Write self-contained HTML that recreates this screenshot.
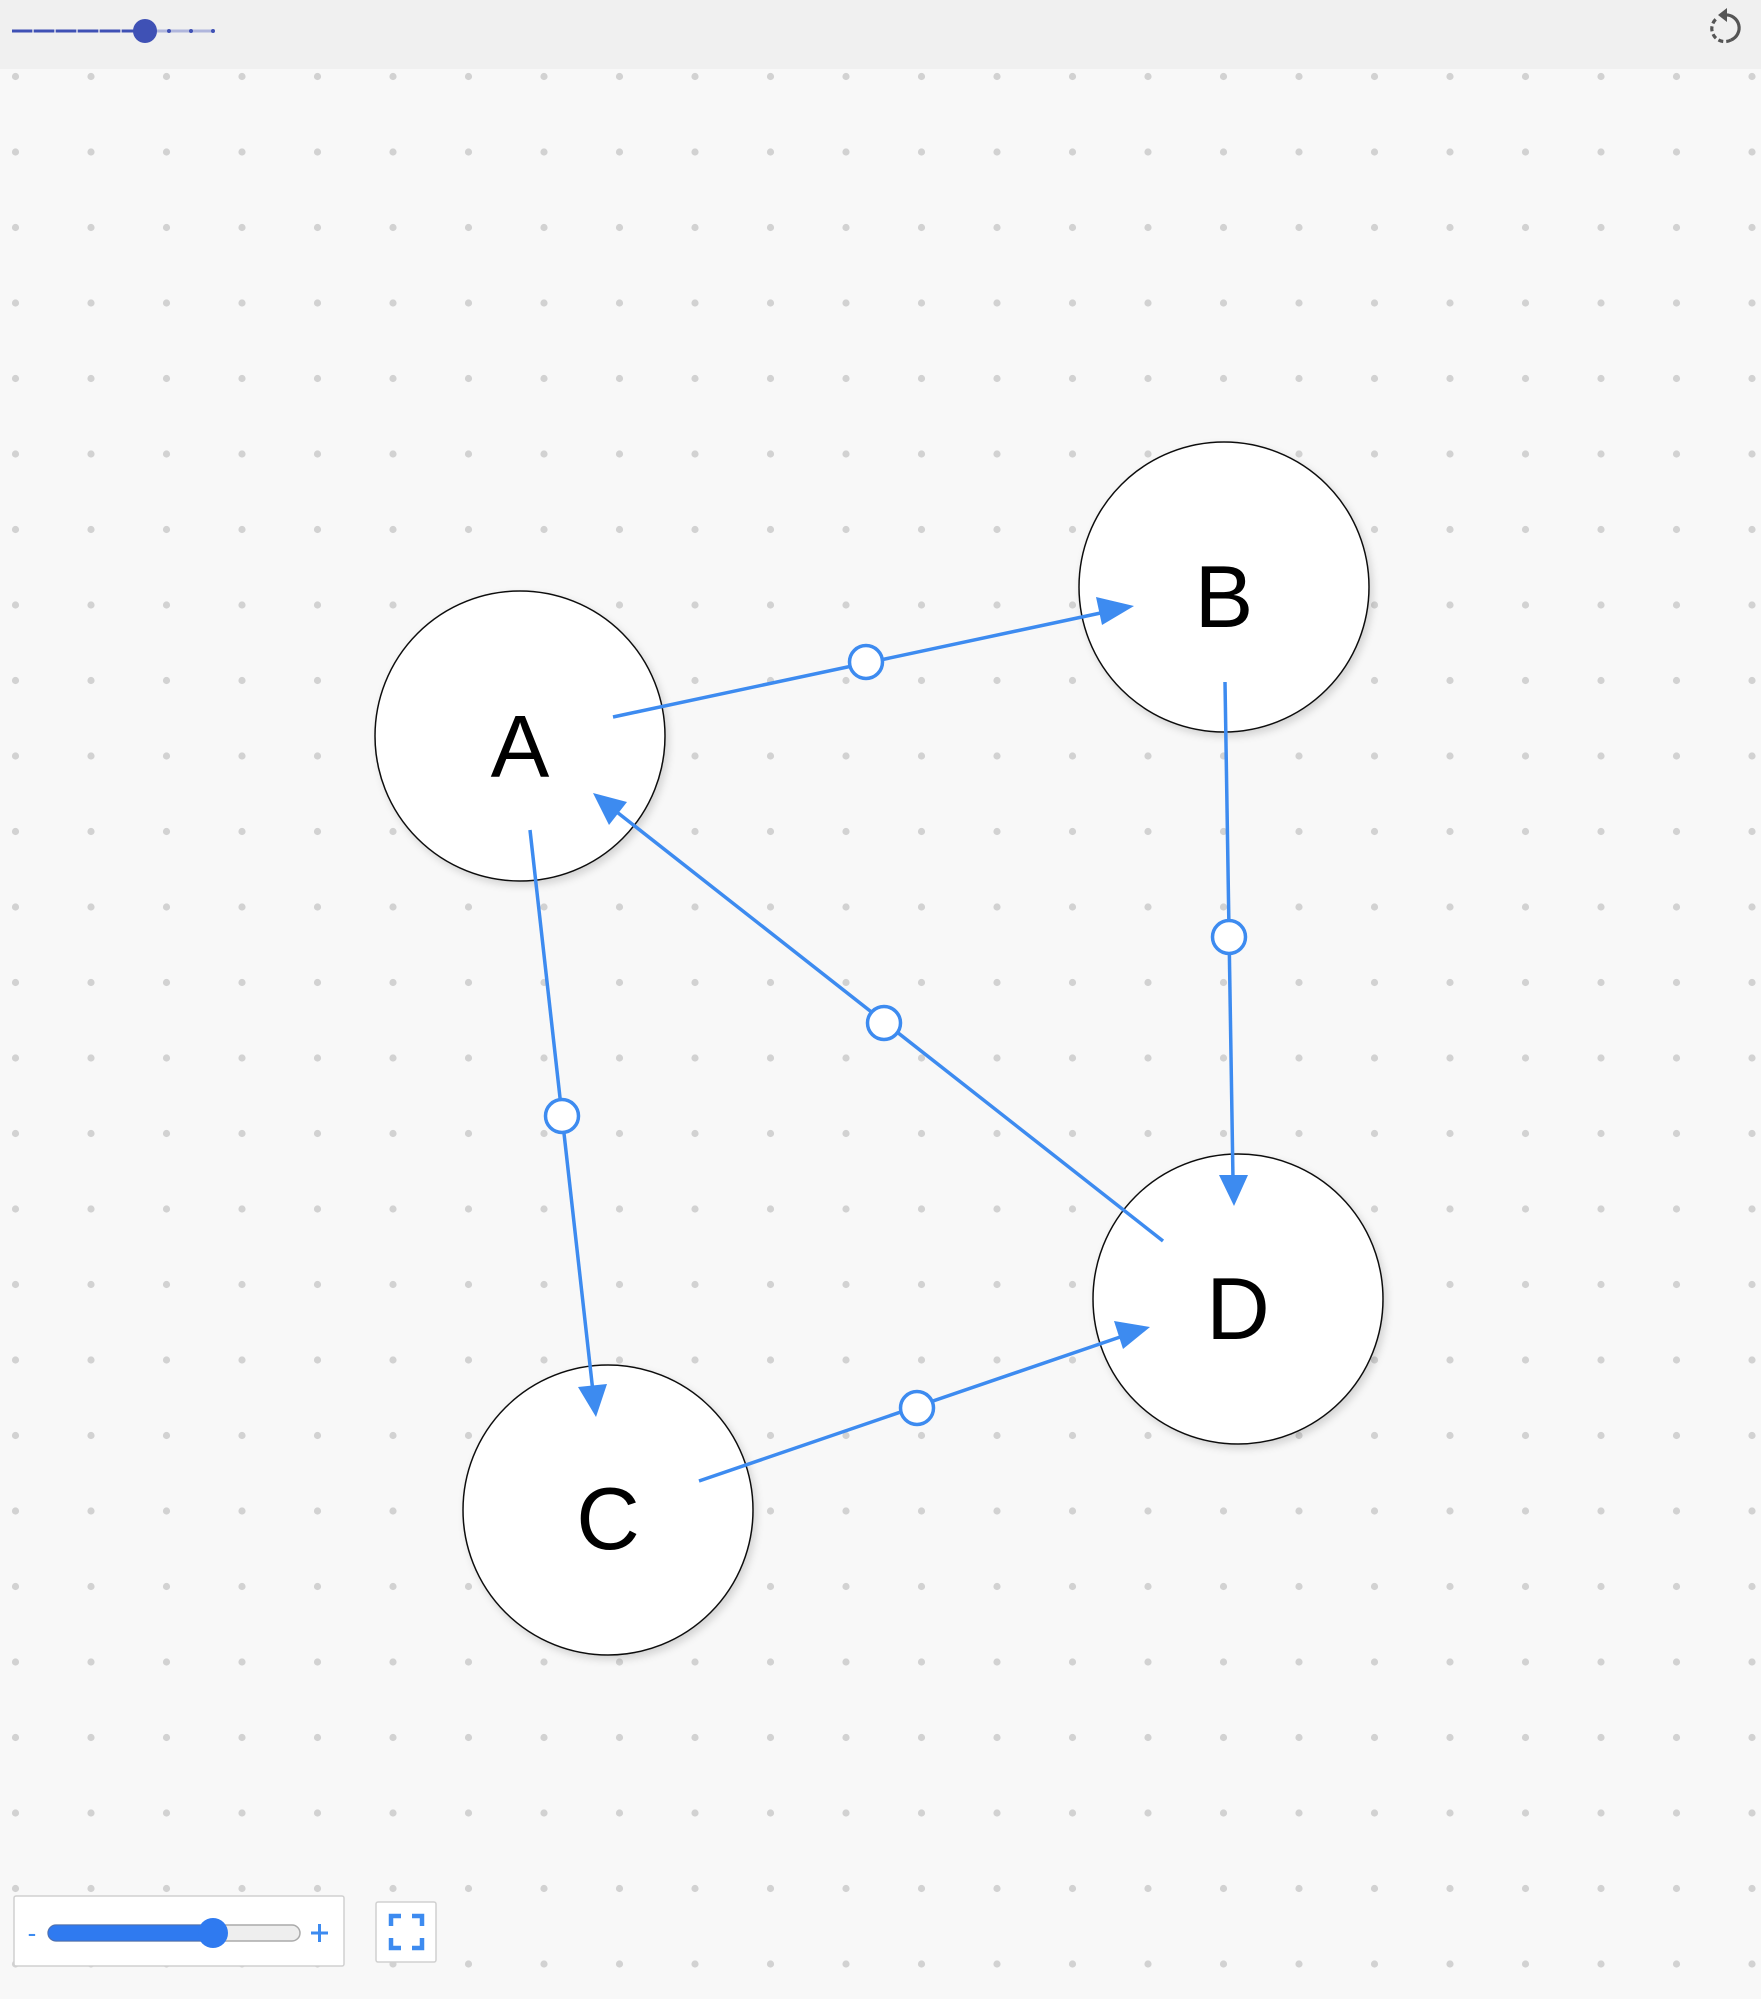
<!DOCTYPE html>
<html><head><meta charset="utf-8"><style>
html,body{margin:0;padding:0;width:1761px;height:1999px;overflow:hidden;background:#f8f8f8;font-family:"Liberation Sans",sans-serif}
</style></head><body>
<svg width="1761" height="1999" viewBox="0 0 1761 1999" xmlns="http://www.w3.org/2000/svg">
<defs>
<pattern id="dots" x="15.5" y="76.5" width="75.5" height="75.5" patternUnits="userSpaceOnUse">
<circle cx="0" cy="0" r="3.6" fill="#d2d2d2"/><circle cx="75.5" cy="0" r="3.6" fill="#d2d2d2"/><circle cx="0" cy="75.5" r="3.6" fill="#d2d2d2"/><circle cx="75.5" cy="75.5" r="3.6" fill="#d2d2d2"/>
</pattern>
<filter id="sh" x="-20%" y="-20%" width="140%" height="140%"><feDropShadow dx="3" dy="4" stdDeviation="4" flood-color="#000" flood-opacity="0.15"/></filter>
</defs>
<rect width="1761" height="1999" fill="#f8f8f8"/>
<rect x="0" y="69" width="1761" height="1930" fill="url(#dots)"/>
<rect x="0" y="0" width="1761" height="69" fill="#f0f0f0"/>
<!-- top slider -->
<line x1="12" y1="31" x2="213" y2="31" stroke="#b0b6dc" stroke-width="3"/>
<line x1="12" y1="31" x2="145" y2="31" stroke="#3f51b5" stroke-width="3" stroke-dasharray="20 2"/>
<circle cx="169" cy="31" r="2" fill="#3f51b5"/><circle cx="191" cy="31" r="2" fill="#3f51b5"/><circle cx="213" cy="31" r="2" fill="#3f51b5"/>
<circle cx="145" cy="31" r="12" fill="#3f51b5"/>
<!-- reset icon -->
<path d="M1725 15 A13 13 0 0 1 1731 40" fill="none" stroke="#555" stroke-width="3.2"/>
<path d="M1731 40 A13 13 0 0 1 1716 19" fill="none" stroke="#555" stroke-width="3.2" stroke-dasharray="5 3"/>
<polygon points="1718,15 1727,8 1727,22" fill="#555"/>
<!-- nodes -->
<g filter="url(#sh)" fill="#fff" stroke="#111" stroke-width="1.5">
<circle cx="520" cy="736" r="145"/>
<circle cx="1224" cy="587" r="145"/>
<circle cx="608" cy="1510" r="145"/>
<circle cx="1238" cy="1299" r="145"/>
</g>
<g font-size="88" text-anchor="middle" fill="#000" font-family="Liberation Sans, sans-serif">
<text x="520" y="777">A</text>
<text x="1224" y="627">B</text>
<text x="608" y="1549">C</text>
<text x="1238" y="1339">D</text>
</g>
<!-- edges -->
<g stroke="#3d8bf0" stroke-width="3.5" fill="none">
<line x1="613" y1="717" x2="1110" y2="611"/>
<line x1="1225" y1="682" x2="1233" y2="1180"/>
<line x1="1163" y1="1241" x2="613" y2="809"/>
<line x1="530" y1="830" x2="593" y2="1392"/>
<line x1="699" y1="1481" x2="1126" y2="1335"/>
</g>
<g fill="#3d8bf0">
<polygon points="1134,606 1102,625 1096,597"/>
<polygon points="1234,1206 1219,1175 1248,1175"/>
<polygon points="593,793 627,802 609,825"/>
<polygon points="596,1417 578,1387 607,1384"/>
<polygon points="1150,1327 1123,1349 1114,1321"/>
</g>
<g fill="#fff" stroke="#3d8bf0" stroke-width="3.5">
<circle cx="866" cy="662" r="16.5"/>
<circle cx="1229" cy="937" r="16.5"/>
<circle cx="884" cy="1023" r="16.5"/>
<circle cx="562" cy="1116" r="16.5"/>
<circle cx="917" cy="1408" r="16.5"/>
</g>
<!-- bottom controls -->
<rect x="14" y="1896" width="330" height="70" rx="2" fill="#fff" stroke="#d0d0d0" stroke-width="1.5"/>
<text x="32" y="1942" font-size="26" fill="#3d8bf0" text-anchor="middle">-</text>
<rect x="48" y="1925" width="252" height="16" rx="8" fill="#eee" stroke="#aaa" stroke-width="1.5"/>
<rect x="48" y="1925" width="165" height="16" rx="8" fill="#2f7af0" stroke="#4a6fb5" stroke-width="1"/>
<circle cx="213" cy="1933" r="15" fill="#2f7af0"/>
<path d="M311 1933 H328 M319.5 1924 V1942" stroke="#3d8bf0" stroke-width="3"/>
<rect x="376" y="1902" width="60" height="60" rx="2" fill="#fff" stroke="#d0d0d0" stroke-width="1.5"/>
<g stroke="#3d8bf0" stroke-width="4.5" fill="none">
<path d="M391 1926 V1916 H401"/><path d="M412 1916 H422 V1926"/><path d="M391 1938 V1948 H401"/><path d="M412 1948 H422 V1938"/>
</g>
</svg>
</body></html>
